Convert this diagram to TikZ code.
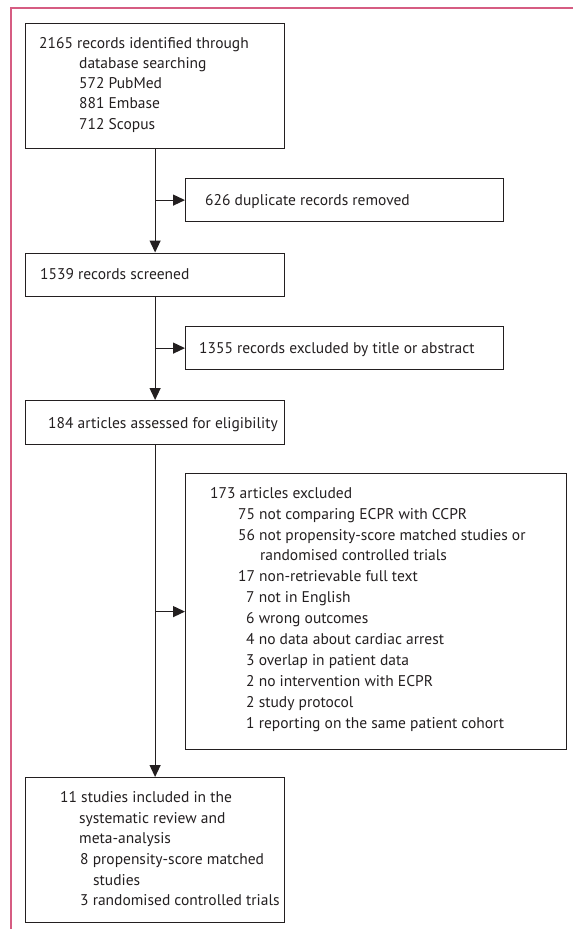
\documentclass[tikz,border=0pt]{standalone}
\usepackage{fontspec}
\setmainfont{PT Sans}
\usetikzlibrary{arrows.meta}
\definecolor{frame}{RGB}{214,92,130}
\definecolor{ink}{RGB}{35,31,32}
\begin{document}
\begin{tikzpicture}[x=1pt,y=-1pt,
  box/.style={draw=ink, line width=1.2pt, inner sep=0pt, anchor=north west},
  txt/.style={anchor=base west, inner sep=0pt, font=\fontsize{15.5}{18}\selectfont, text=ink},
  flow/.style={draw=ink, line width=1.2pt, -{Triangle[length=12pt,width=11pt]}}]
\useasboundingbox (0,0) rectangle (573,929);
\draw[frame, line width=1.5pt] (11,929) -- (11,8) -- (573,8);
% boxes
\node[box, minimum width=259pt, minimum height=125pt] (b1) at (25,23) {};
\node[box, minimum width=259pt, minimum height=43.5pt] (b2) at (25,252.5) {};
\node[box, minimum width=259pt, minimum height=44pt] (b3) at (25,400) {};
\node[box, minimum width=259pt, minimum height=145pt] (b7) at (25,777) {};
\node[box, minimum width=318pt, minimum height=43pt] (b4) at (185,178) {};
\node[box, minimum width=318pt, minimum height=43pt] (b5) at (185,326) {};
\node[box, minimum width=381pt, minimum height=276pt] (b6) at (185,473) {};
% texts box 1
\node[txt] (t1a) at (39,48.5) {2165 records identified through};
\node[txt] (t1b) at (79,68.5) {database searching};
\node[txt] (t1c) at (79,88.5) {572 PubMed};
\node[txt] (t1d) at (79,108.7) {881 Embase};
\node[txt] (t1e) at (79,129) {712 Scopus};
\node[txt] (t4) at (205,205) {626 duplicate records removed};
\node[txt] (t2) at (40,279) {1539 records screened};
\node[txt] (t5) at (199,353) {1355 records excluded by title or abstract};
\node[txt] (t3) at (48,428) {184 articles assessed for eligibility};
% excluded
\node[txt] (t6a) at (210,498) {173 articles excluded};
\node[txt] (t6b) at (238,519) {75 not comparing ECPR with CCPR};
\node[txt] (t6c) at (238,540) {56 not propensity-score matched studies or};
\node[txt] (t6d) at (260,560.5) {randomised controlled trials};
\node[txt] (t6e) at (238,581.5) {17 non-retrievable full text};
\node[txt] (t6f) at (246,602.5) {7 not in English};
\node[txt] (t6g) at (246,623.5) {6 wrong outcomes};
\node[txt] (t6h) at (246,644.5) {4 no data about cardiac arrest};
\node[txt] (t6i) at (246,665) {3 overlap in patient data};
\node[txt] (t6j) at (246,686) {2 no intervention with ECPR};
\node[txt] (t6k) at (246,707) {2 study protocol};
\node[txt] (t6l) at (246,728) {1 reporting on the same patient cohort};
% included
\node[txt] (t7a) at (60,802) {11 studies included in the};
\node[txt] (t7b) at (79,823) {systematic review and};
\node[txt] (t7c) at (79,843.5) {meta-analysis};
\node[txt] (t7d) at (80,864.5) {8 propensity-score matched};
\node[txt] (t7e) at (93,885) {studies};
\node[txt] (t7f) at (80,905.5) {3 randomised controlled trials};
% connectors
\draw[flow] (b1.south) -- (b2.north);
\draw[flow] (b2.south) -- (b3.north);
\draw[flow] (b3.south) -- (b7.north);
\coordinate (j1) at (b1.south |- b4.west);
\coordinate (j2) at (b2.south |- b5.west);
\coordinate (j3) at (b3.south |- b6.west);
\draw[flow] (j1) -- (b4.west);
\draw[flow] (j2) -- (b5.west);
\draw[flow] (j3) -- (b6.west);
\end{tikzpicture}
\end{document}
